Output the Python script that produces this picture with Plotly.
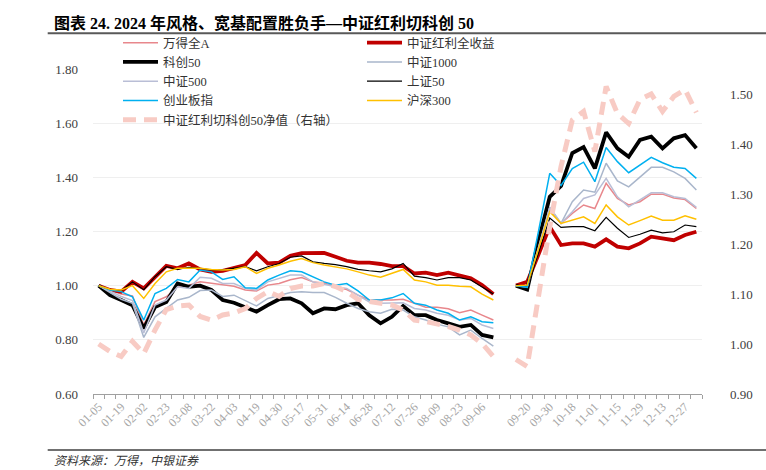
import plotly.graph_objects as go

# ---------------- data ----------------
dates = ["01-05","01-12","01-19","01-26","02-02","02-08","02-23","03-01","03-08","03-15",
         "03-22","03-29","04-03","04-12","04-19","04-26","04-30","05-10","05-17","05-24",
         "05-31","06-07","06-14","06-21","06-28","07-05","07-12","07-19","07-26","08-02",
         "08-09","08-16","08-23","08-30","09-06","09-13","",
         "09-13","09-20","09-27","09-30","10-11","10-18","10-25","11-01","11-08","11-15",
         "11-22","11-29","12-06","12-13","12-20","12-27","12-31"]

wind_a = [1.00,0.984,0.969,0.962,0.855,0.941,0.959,0.996,1.002,1.014,1.008,1.002,0.998,0.984,0.98,1.002,
          1.008,1.022,1.03,1.014,1.01,0.996,0.986,0.965,0.947,0.947,0.947,0.95,0.935,0.92,0.92,0.915,
          0.9,0.91,0.891,0.873, None,
          1.00,0.997,1.14,1.283,1.23,1.267,1.298,1.285,1.378,1.322,1.298,1.31,1.338,1.338,1.324,1.318,1.285]
dividend = [1.00,0.984,0.978,1.014,0.99,1.033,1.073,1.064,1.082,1.06,1.051,1.055,1.064,1.076,1.121,1.082,
            1.085,1.11,1.12,1.119,1.121,1.107,1.092,1.085,1.085,1.08,1.072,1.072,1.045,1.048,1.039,1.048,
            1.039,1.027,1.002,0.969, None,
            1.00,1.014,1.115,1.218,1.15,1.156,1.156,1.144,1.171,1.144,1.138,1.156,1.181,1.175,1.168,1.187,1.199]
star50 = [1.00,0.965,0.947,0.928,0.842,0.921,0.94,1.008,0.996,1.0,0.984,0.947,0.937,0.92,0.904,0.928,
          0.95,0.953,0.935,0.898,0.916,0.913,0.928,0.935,0.891,0.861,0.885,0.925,0.891,0.891,0.873,0.861,
          0.848,0.855,0.818,0.809, None,
          1.00,0.986,1.165,1.328,1.368,1.49,1.512,1.433,1.566,1.507,1.476,1.538,1.55,1.507,1.544,1.556,1.507]
csi1000 = [1.00,0.975,0.95,0.935,0.809,0.885,0.916,0.947,0.957,0.982,0.984,0.96,0.965,0.945,0.925,0.953,
           0.965,0.975,0.978,0.975,0.975,0.957,0.935,0.916,0.904,0.898,0.913,0.91,0.885,0.873,0.858,0.848,
           0.818,0.836,0.805,0.777, None,
           1.00,0.995,1.14,1.29,1.23,1.31,1.353,1.345,1.452,1.387,1.365,1.402,1.437,1.437,1.42,1.396,1.353]
csi500 = [1.00,0.98,0.96,0.945,0.825,0.928,0.947,0.996,0.99,1.031,1.027,1.008,1.008,0.99,0.984,1.014,
          1.027,1.039,1.039,1.014,1.005,0.996,0.99,0.965,0.94,0.935,0.935,0.937,0.916,0.91,0.898,0.891,
          0.873,0.879,0.855,0.842, None,
          1.00,0.996,1.14,1.287,1.23,1.273,1.322,1.335,1.396,1.328,1.291,1.316,1.343,1.343,1.328,1.322,1.289]
sse50 = [1.00,0.986,0.981,1.014,0.985,1.033,1.07,1.06,1.068,1.064,1.058,1.058,1.064,1.07,1.055,1.07,
         1.082,1.105,1.11,1.088,1.082,1.078,1.07,1.06,1.055,1.051,1.062,1.082,1.035,1.03,1.021,1.03,
         1.03,1.021,0.995,0.969, None,
         1.00,0.998,1.12,1.25,1.215,1.218,1.218,1.203,1.252,1.212,1.178,1.19,1.205,1.195,1.199,1.224,1.218]
chinext = [1.00,0.984,0.978,0.959,0.873,0.971,0.99,1.023,1.014,1.058,1.051,1.023,1.033,0.992,0.99,1.021,
           1.039,1.055,1.051,1.033,1.014,1.002,1.008,0.981,0.947,0.947,0.955,0.971,0.935,0.928,0.91,0.898,
           0.873,0.885,0.867,0.863, None,
           1.00,0.994,1.20,1.415,1.37,1.432,1.456,1.384,1.51,1.458,1.417,1.445,1.474,1.454,1.437,1.433,1.396]
hs300 = [1.00,0.987,0.984,1.0,0.953,1.008,1.051,1.064,1.064,1.064,1.06,1.058,1.06,1.07,1.045,1.064,
         1.076,1.09,1.1,1.085,1.076,1.07,1.062,1.051,1.039,1.031,1.045,1.06,1.021,1.014,1.002,1.002,
         0.998,0.996,0.969,0.947, None,
         1.00,1.002,1.135,1.273,1.23,1.242,1.254,1.23,1.298,1.254,1.224,1.24,1.257,1.242,1.242,1.258,1.245]
switch_nav = [1.00,0.985,0.975,1.005,0.981,1.028,1.069,1.076,1.078,1.055,1.048,1.058,1.062,1.071,1.091,1.105,
              1.095,1.111,1.116,1.116,1.121,1.115,1.105,1.089,1.085,1.081,1.078,1.068,1.048,1.045,1.041,1.035,
              1.028,1.018,1.001,0.975, None,
              0.969,0.955,1.095,1.235,1.355,1.448,1.465,1.385,1.515,1.461,1.441,1.489,1.50,1.465,1.495,1.509,1.463]

left_ticks = [0.6, 0.8, 1.0, 1.2, 1.4, 1.6, 1.8]
right_ticks = [0.9, 1.0, 1.1, 1.2, 1.3, 1.4, 1.5]

# ---------------- layout geometry ----------------
W, H = 766, 470
ML, MR, MT, MB = 93, 64, 69, 76
PW, PH = W - ML - MR, H - MT - MB

def px_x(px):
    return (px - ML) / PW

def px_y(py):
    return (H - MB - py) / PH

xs = list(range(len(dates)))
SERIF = "Liberation Serif, Noto Sans CJK SC"

fig = go.Figure()

def add(name, vals, color, width, legend, axis="y", dash=None):
    fig.add_trace(go.Scatter(
        x=xs, y=vals, name=name, mode="lines", yaxis=axis,
        line=dict(color=color, width=width, dash=dash),
        legend=legend, connectgaps=False, hoverinfo="skip"))

add("万得全A", wind_a, "#E8878C", 1.5, "legend")
add("中证红利全收益", dividend, "#C00000", 3.8, "legend2")
add("科创50", star50, "#000000", 3.8, "legend")
add("中证1000", csi1000, "#A9B6CB", 1.5, "legend2")
add("中证500", csi500, "#B9BED6", 1.5, "legend")
add("上证50", sse50, "#000000", 1.2, "legend2")
add("创业板指", chinext, "#00B0F0", 1.5, "legend")
add("沪深300", hs300, "#FFC000", 1.5, "legend2")
add("中证红利切科创50净值（右轴）", switch_nav, "#F8CBC4", 5, "legend", axis="y2", dash="13px,8px")

legend_common = dict(
    xanchor="left", yanchor="top", bgcolor="rgba(0,0,0,0)",
    font=dict(family=SERIF, size=12.5, color="#333333"),
    itemwidth=35, tracegroupgap=0, orientation="v")

fig.update_layout(
    width=W, height=H,
    margin=dict(l=ML, r=MR, t=MT, b=MB, pad=0, autoexpand=False),
    paper_bgcolor="white", plot_bgcolor="white",
    showlegend=True,
    legend=dict(x=px_x(118), y=px_y(28), **legend_common),
    legend2=dict(x=px_x(362), y=px_y(28), **legend_common),
    xaxis=dict(
        range=[-0.5, len(dates) - 0.5],
        tickmode="array", tickvals=xs[::2], ticktext=dates[::2],
        ticks="", tickangle=-45,
        tickfont=dict(family=SERIF, size=12, color="#A6A6A6"),
        showline=True, linecolor="#A0A0A0", linewidth=1,
        showgrid=False, zeroline=False, automargin=False,
        minor=dict(ticks="outside", tickmode="linear", tick0=-0.5, dtick=1,
                   ticklen=4, tickcolor="#A0A0A0", tickwidth=1, showgrid=False),
    ),
    yaxis=dict(
        range=[0.6, 1.8], tickmode="array", tickvals=left_ticks,
        ticktext=[f"{v:.2f}" for v in left_ticks],
        tickfont=dict(family=SERIF, size=13, color="#404040"),
        showgrid=True, gridcolor="#EFEFEF", gridwidth=1,
        zeroline=False, showline=False, ticks="", ticklabelstandoff=14,
        automargin=False,
    ),
    yaxis2=dict(
        range=[0.9, 1.55], overlaying="y", side="right",
        tickmode="array", tickvals=right_ticks,
        ticktext=[f"{v:.2f}" for v in right_ticks],
        tickfont=dict(family=SERIF, size=13, color="#404040"),
        showgrid=False, zeroline=False, showline=False, ticks="",
        ticklabelstandoff=27, automargin=False,
    ),
    shapes=[
        dict(type="line", xref="paper", yref="paper",
             x0=px_x(47.7), x1=px_x(766), y0=px_y(33.3), y1=px_y(33.3),
             line=dict(color="#595959", width=2)),
        dict(type="line", xref="paper", yref="paper",
             x0=px_x(47.7), x1=px_x(766), y0=px_y(450), y1=px_y(450),
             line=dict(color="#404040", width=1.5)),
    ],
    annotations=[
        dict(text="<b>图表 24. 2024 年风格、宽基配置胜负手—中证红利切科创 50</b>",
             xref="paper", yref="paper", x=px_x(51.7), y=px_y(22.7),
             xanchor="left", yanchor="middle", showarrow=False,
             font=dict(family=SERIF, size=16, color="#000000")),
        dict(text="<i>资料来源：万得，中银证券</i>",
             xref="paper", yref="paper", x=px_x(52), y=px_y(461),
             xanchor="left", yanchor="middle", showarrow=False,
             font=dict(family=SERIF, size=12, color="#333333")),
    ],
)

# the page's default 8px body margin would shift the 766x470 figure inside the window
fig.write_html("out.html", config={"displayModeBar": False},
               post_script="document.body.style.margin='0px';")
